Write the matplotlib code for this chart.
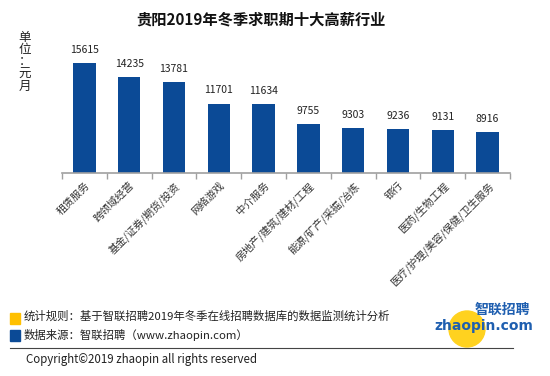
import matplotlib.pyplot as plt
import matplotlib.patches as mpatches
import numpy as np

plt.rcParams['font.family'] = ['Noto Sans CJK SC', 'DejaVu Sans']

# 数据
industries = ['租赁服务', '跨领域经营', '基金/证券/期货/投资', '网络游戏', '中介服务',
              '房地产/建筑/建材/工程', '能源/矿产/采掘/冶炼', '银行', '医药/生物工程',
              '医疗/护理/美容/保健/卫生服务']
salary = [15615, 14235, 13781, 11701, 11634, 9755, 9303, 9236, 9131, 8916]

blue = '#0b4a96'
yellow = '#ffc000'

fig = plt.figure(figsize=(5.5, 3.76), dpi=100)
ax = fig.add_axes([0.1127, 0.540, 0.8146, 0.33])

x = np.arange(len(salary))
ax.bar(x, salary, width=0.5, color=blue, zorder=2)
for xi, v in zip(x, salary):
    ax.text(xi, v + 800, str(v), ha='center', va='bottom', fontsize=7.5, color='#222222')

ax.set_xlim(-0.5, len(salary) - 0.5)
ax.set_ylim(5000, 17000)
ax.set_yticks([])
for s in ['top', 'right', 'left']:
    ax.spines[s].set_visible(False)
ax.spines['bottom'].set_color('#a0a0a0')
ax.spines['bottom'].set_linewidth(1.2)

ax.set_xticks(x)
ax.set_xticklabels(industries, rotation=45, ha='right', rotation_mode='anchor',
                   fontsize=7.5, color='#333333')
ax.tick_params(axis='x', which='major', length=0, pad=5)
ax.set_xticks(np.arange(-0.5, len(salary)), minor=True)
ax.tick_params(axis='x', which='minor', length=4, color='#a0a0a0', width=1)

fig.text(0.475, 0.948, '贵阳2019年冬季求职期十大高薪行业', ha='center', va='center',
         fontsize=11, fontweight='bold', color='#111111')

for i, ch in enumerate(['单', '位', '：', '元', '月']):
    fig.text(25 / 550, 1 - (37 + i * 12.4) / 376, ch, ha='center', va='center',
             fontsize=9, color='#222222')

# 底部说明
fig.patches.append(mpatches.Rectangle((10 / 550, 1 - 324 / 376), 10 / 550, 11 / 376,
                                      transform=fig.transFigure, color=yellow, figure=fig))
fig.patches.append(mpatches.Rectangle((10 / 550, 1 - 341 / 376), 10 / 550, 11 / 376,
                                      transform=fig.transFigure, color=blue, figure=fig))
fig.text(24 / 550, 1 - 316 / 376, '统计规则：基于智联招聘2019年冬季在线招聘数据库的数据监测统计分析',
         ha='left', va='center', fontsize=8.2, color='#222222')
fig.text(24 / 550, 1 - 335 / 376, '数据来源：智联招聘（www.zhaopin.com）',
         ha='left', va='center', fontsize=8.2, color='#222222')
fig.add_artist(plt.Line2D([10 / 550, 513 / 550], [1 - 348 / 376, 1 - 348 / 376],
                          color='#444444', linewidth=0.8))
fig.text(26 / 550, 1 - 360 / 376, 'Copyright©2019 zhaopin all rights reserved',
         ha='left', va='center', fontsize=8.3, color='#222222')

# logo
fig.patches.append(mpatches.Ellipse((467 / 550, 1 - 329 / 376), 36 / 550, 36 / 376,
                                    transform=fig.transFigure, color='#ffd21f', figure=fig))
fig.text(502 / 550, 1 - 310 / 376, '智联招聘', ha='center', va='center', fontsize=10,
         fontweight='bold', color='#1f5fb0', fontstyle='italic')
fig.text(484 / 550, 1 - 326 / 376, 'zhaopin.com', ha='center', va='center', fontsize=10,
         fontweight='bold', color='#1f5fb0', family='DejaVu Sans')

fig.savefig('out.png', dpi=100)
